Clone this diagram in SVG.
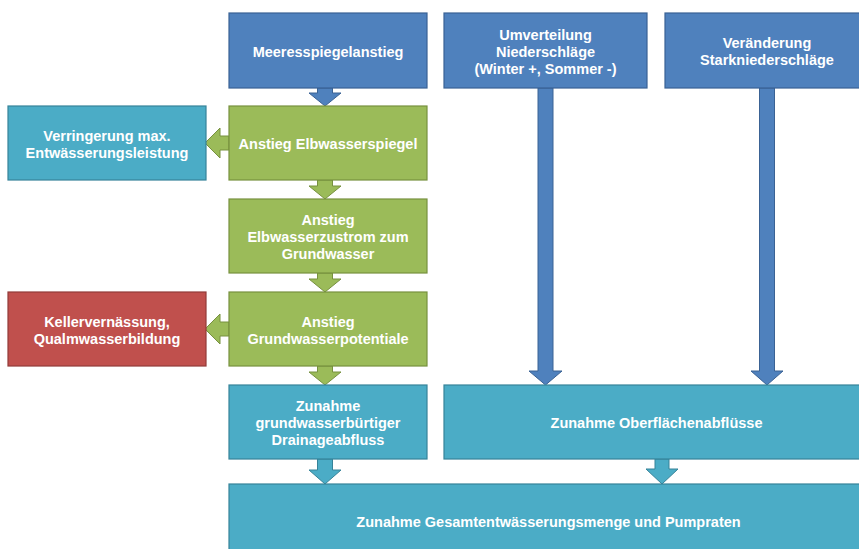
<svg xmlns="http://www.w3.org/2000/svg" width="859" height="549" viewBox="0 0 859 549">
  <style>
    .box { stroke-width: 1.2; }
    .blue { fill: #4F81BD; stroke: #3A6294; }
    .green { fill: #9BBB59; stroke: #77913F; }
    .teal { fill: #4BACC6; stroke: #368399; }
    .red { fill: #C0504D; stroke: #923B39; }
    .arrow { stroke-width: 1; stroke-linejoin: miter; }
    text { font-family: "Liberation Sans", Arial, Helvetica, sans-serif; font-weight: bold; font-size: 14.5px; fill: #FFFFFF; text-anchor: middle; }
  </style>
  <rect width="859" height="549" fill="#FFFFFF"/>

  <!-- connectors: block arrows -->
  <g id="connectors">
    <!-- left column, downward -->
    <polygon class="arrow blue" points="317.5,88 332.5,88 332.5,93 341,93 325,106 309,93 317.5,93"/>
    <polygon class="arrow green" points="317.5,180 332.5,180 332.5,186 341,186 325,199 309,186 317.5,186"/>
    <polygon class="arrow green" points="317.5,273 332.5,273 332.5,279 341,279 325,292 309,279 317.5,279"/>
    <polygon class="arrow green" points="317.5,366 332.5,366 332.5,372 341,372 325,385 309,372 317.5,372"/>
    <polygon class="arrow teal" points="317.5,459 332.5,459 332.5,470 341,470 325,484 309,470 317.5,470"/>
    <!-- left column, sideways -->
    <polygon class="arrow green" points="229,136 220,136 220,128 205,143 220,158 220,150 229,150"/>
    <polygon class="arrow green" points="229,322 220,322 220,314 205,329 220,344 220,336 229,336"/>
    <!-- precipitation to surface runoff -->
    <polygon class="arrow blue" points="538,88 553,88 553,371 562,371 545.5,385 529,371 538,371"/>
    <polygon class="arrow blue" points="759.5,88 774.5,88 774.5,371 783,371 767,385 751,371 759.5,371"/>
    <!-- surface runoff to total -->
    <polygon class="arrow teal" points="655,459 669,459 669,469 678,469 662,484 646,469 655,469"/>
  </g>

  <g id="meeresspiegel">
    <rect class="box blue" x="229" y="13" width="198" height="75"/>
    <text x="328" y="56.5">Meeresspiegelanstieg</text>
  </g>
  <g id="umverteilung">
    <rect class="box blue" x="444" y="13" width="203" height="75"/>
    <text x="545.5" y="39.5">Umverteilung</text>
    <text x="545.5" y="56.5">Niederschläge</text>
    <text x="545.5" y="73.5">(Winter +, Sommer -)</text>
  </g>
  <g id="starkniederschlaege">
    <rect class="box blue" x="665" y="13" width="205" height="75"/>
    <text x="767" y="48">Veränderung</text>
    <text x="767" y="65">Starkniederschläge</text>
  </g>
  <g id="elbwasserspiegel">
    <rect class="box green" x="229" y="106" width="198" height="74"/>
    <text x="328" y="149">Anstieg Elbwasserspiegel</text>
  </g>
  <g id="entwaesserungsleistung">
    <rect class="box teal" x="8" y="106" width="198" height="74"/>
    <text x="107" y="140.5">Verringerung max.</text>
    <text x="107" y="157.5">Entwässerungsleistung</text>
  </g>
  <g id="elbwasserzustrom">
    <rect class="box green" x="229" y="199" width="198" height="74"/>
    <text x="328" y="225">Anstieg</text>
    <text x="328" y="242">Elbwasserzustrom zum</text>
    <text x="328" y="259">Grundwasser</text>
  </g>
  <g id="grundwasserpotentiale">
    <rect class="box green" x="229" y="292" width="198" height="74"/>
    <text x="328" y="326.5">Anstieg</text>
    <text x="328" y="343.5">Grundwasserpotentiale</text>
  </g>
  <g id="kellervernaessung">
    <rect class="box red" x="8" y="292" width="198" height="74"/>
    <text x="107" y="326.5">Kellervernässung,</text>
    <text x="107" y="343.5">Qualmwasserbildung</text>
  </g>
  <g id="drainageabfluss">
    <rect class="box teal" x="229" y="385" width="198" height="74"/>
    <text x="328" y="411">Zunahme</text>
    <text x="328" y="428">grundwasserbürtiger</text>
    <text x="328" y="445">Drainageabfluss</text>
  </g>
  <g id="oberflaechenabfluesse">
    <rect class="box teal" x="444" y="385" width="426" height="74"/>
    <text x="656.5" y="428">Zunahme Oberflächenabflüsse</text>
  </g>
  <g id="gesamtentwaesserung">
    <rect class="box teal" x="229" y="484" width="640" height="74"/>
    <text x="548.5" y="527">Zunahme Gesamtentwässerungsmenge und Pumpraten</text>
  </g>
</svg>
